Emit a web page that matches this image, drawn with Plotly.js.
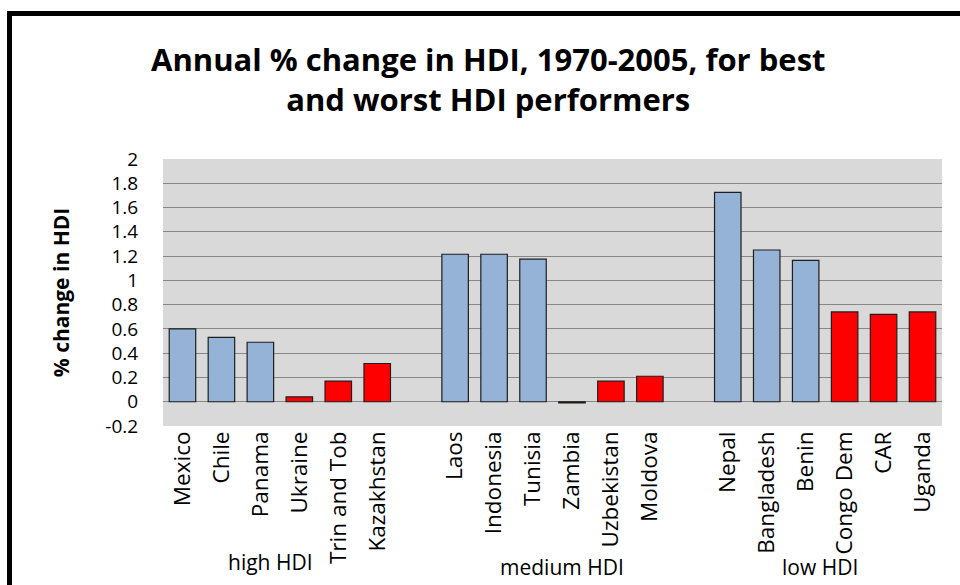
<!DOCTYPE html>
<html>
<head>
<meta charset="utf-8">
<script src="https://cdn.plot.ly/plotly-3.0.1.min.js"></script>
<style>
  html, body { margin: 0; padding: 0; background: #fff; }
  #wrap { position: relative; width: 960px; height: 585px; overflow: hidden; }
  #chart { position: absolute; left: 0; top: 0; width: 960px; height: 585px; }
  #frame { position: absolute; left: 7px; top: 11px; width: 1000px; height: 700px;
           border-left: 5px solid #000; border-top: 5px solid #000; pointer-events: none; }
</style>
</head>
<body>
<div id="wrap">
  <div id="chart"></div>
  <div id="frame"></div>
</div>
<script>
// ---- data ----
const categories = ["Mexico", "Chile", "Panama", "Ukraine", "Trin and Tob", "Kazakhstan", "",
                    "Laos", "Indonesia", "Tunisia", "Zambia", "Uzbekistan", "Moldova", "",
                    "Nepal", "Bangladesh", "Benin", "Congo Dem", "CAR", "Uganda"];
const values = [0.60, 0.53, 0.49, 0.04, 0.17, 0.315, null,
                1.215, 1.215, 1.175, -0.01, 0.17, 0.21, null,
                1.725, 1.25, 1.165, 0.74, 0.72, 0.74];
const performance = ["best", "best", "best", "worst", "worst", "worst", null,
                     "best", "best", "best", "worst", "worst", "worst", null,
                     "best", "best", "best", "worst", "worst", "worst"];
const groupLabels = ["high HDI", "medium HDI", "low HDI"];
const groupLabelX = [2.25, 9.74, 16.37];
const groupLabelY = [-0.51, -0.527, -0.527];
const yTickVals = [-0.2, 0, 0.2, 0.4, 0.6, 0.8, 1, 1.2, 1.4, 1.6, 1.8, 2];
const yTickText = ["-0.2", "0", "0.2", "0.4", "0.6", "0.8", "1", "1.2", "1.4", "1.6", "1.8", "2"];
const chartTitle = "Annual % change in HDI, 1970-2005, for best<br>and worst HDI performers";
const yTitle = "% change in HDI";

// ---- derived ----
const colorFor = { best: "#95B3D7", worst: "#FF0000" };
const xs = categories.map((_, i) => i);
const barColors = performance.map(p => p ? colorFor[p] : "rgba(0,0,0,0)");
const boundaries = [];
for (let i = 0; i <= categories.length; i++) boundaries.push(i - 0.5);
const xRange = [-0.5, categories.length - 0.5];
const yRange = [-0.2, 2];
const gridCol = "#878787";
const FONT = "Open Sans";

const traces = [{
  type: "bar",
  x: xs,
  y: values,
  width: 0.68,
  marker: { color: barColors, line: { color: "#1e1e1e", width: 1.2 } },
  hoverinfo: "skip",
  showlegend: false
}];

const annotations = groupLabels.map((t, i) => ({
  text: t, xref: "x", yref: "paper", x: groupLabelX[i], y: groupLabelY[i],
  xanchor: "center", yanchor: "middle", showarrow: false,
  font: { family: FONT, size: 21, color: "#000" }
}));
annotations.push({
  text: chartTitle, xref: "paper", yref: "paper",
  x: (488 - 163) / (960 - 163 - 18), y: 1.30,
  xanchor: "center", yanchor: "middle", align: "center", showarrow: false,
  font: { family: FONT, size: 31, weight: "bold", color: "#000" }
});

const layout = {
  width: 960, height: 585,
  margin: { l: 163, r: 18, t: 159, b: 159, pad: 0 },
  paper_bgcolor: "#ffffff",
  plot_bgcolor: "#D9D9D9",
  showlegend: false,
  bargap: 0,
  xaxis: {
    range: xRange,
    tickmode: "array", tickvals: xs, ticktext: categories,
    tickangle: -90, ticks: "", showgrid: false, zeroline: false, showline: false,
    tickfont: { family: FONT, size: 22.5, color: "#000" },
    fixedrange: true
  },
  xaxis2: {
    overlaying: "x", anchor: "free",
    position: (0 - yRange[0]) / (yRange[1] - yRange[0]),
    range: xRange,
    tickmode: "array", tickvals: boundaries,
    ticks: "outside", ticklen: 7, tickcolor: gridCol, tickwidth: 1,
    showticklabels: false, showline: true, linecolor: gridCol, linewidth: 1,
    showgrid: false, zeroline: false, fixedrange: true
  },
  yaxis: {
    range: yRange,
    tickmode: "array", tickvals: yTickVals, ticktext: yTickText,
    ticks: "outside", ticklen: 20, tickcolor: "rgba(0,0,0,0)", tickwidth: 1,
    showline: false,
    showgrid: true, gridcolor: gridCol, gridwidth: 1,
    zeroline: false,
    tickfont: { family: FONT, size: 19, color: "#000" },
    title: { text: yTitle, font: { family: FONT, size: 21, weight: "bold", color: "#000" }, standoff: 30 },
    fixedrange: true
  },
  yaxis2: {
    overlaying: "y", anchor: "x", side: "left",
    range: yRange,
    tickmode: "array", tickvals: yTickVals,
    ticks: "outside", ticklen: 10, tickcolor: gridCol, tickwidth: 1,
    showticklabels: false, showline: true, linecolor: gridCol, linewidth: 1,
    showgrid: false, zeroline: false, fixedrange: true
  },
  annotations: annotations
};

Plotly.newPlot("chart", traces, layout, { displayModeBar: false, staticPlot: true });
</script>
</body>
</html>
